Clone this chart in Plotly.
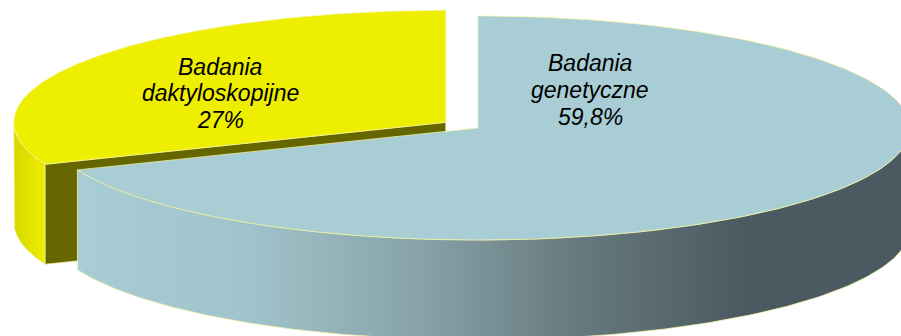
import numpy as np
import plotly.graph_objects as go

# ---- data ----
categories = ["Badania genetyczne", "Badania daktyloskopijne"]
label_lines = [["Badania", "genetyczne", "59,8%"], ["Badania", "daktyloskopijne", "27%"]]
values = [59.8, 27.0]

# ---- geometry / style ----
W, H = 901, 336
cx, cy = 478, 128
rx, ry = 432, 112
depth = 100
explode = [0.0, 0.09]
start_angle = -90.0  # 12 o'clock, clockwise on screen

top_colors = ["#A9CDD5", "#EEEE00"]
cut_colors = ["#4A5A60", "#666600"]
edge = "rgba(245,245,160,0.9)"

label_pos = [(590, [63, 90, 117]), (220, [67, 93, 120])]

fig = go.Figure()

total = sum(values)
angles = []
a = start_angle
for v in values:
    b = a + 360.0 * v / total
    angles.append((a, b))
    a = b


def pt(t, ox, oy, dz=0.0):
    r = np.radians(t)
    return ox + rx * np.cos(r), oy + ry * np.sin(r) + dz


def arc(t0, t1, ox, oy, dz=0.0, n=200):
    ts = np.linspace(t0, t1, n)
    r = np.radians(ts)
    return list(ox + rx * np.cos(r)), list(oy + ry * np.sin(r) + dz)


def add_poly(xs, ys, color=None, grad=None, line=edge, lw=0.8):
    kw = dict(x=xs + [xs[0]], y=ys + [ys[0]], mode="lines", fill="toself",
              line=dict(color=line, width=lw), hoverinfo="skip", showlegend=False)
    if grad is not None:
        kw["fillgradient"] = grad
    else:
        kw["fillcolor"] = color
    fig.add_trace(go.Scatter(**kw))


# draw order: yellow (back-left, exploded) first, then blue
for i in [1, 0]:
    t0, t1 = angles[i]
    mid = np.radians((t0 + t1) / 2)
    ox = cx + rx * explode[i] * np.cos(mid)
    oy = cy + ry * explode[i] * np.sin(mid)

    # visible rim: portion of [t0,t1] inside (0,180) modulo 360
    lo, hi = max(t0, 0), min(t1, 180)
    if hi > lo:
        xt, yt = arc(lo, hi, ox, oy)
        xb, yb = arc(hi, lo, ox, oy, depth)
        if i == 0:
            grad = dict(type="horizontal", start=80, stop=745,
                        colorscale=[[0, "#A9CDD5"], [0.25, "#A1C3CB"], [0.5, "#88A4AA"],
                                    [0.75, "#66797E"], [1, "#4A5A60"]])
        else:
            grad = dict(type="horizontal", start=12, stop=45,
                        colorscale=[[0, "#D6D600"], [1, "#EEEE00"]])
        add_poly(xt + xb, yt + yb, grad=grad)

    # visible cut face (yellow's face at end angle faces the viewer)
    if i == 1:
        ex, ey = pt(t0, ox, oy)
        add_poly([ox, ex, ex, ox], [oy, ey, ey + depth, oy + depth], color=cut_colors[i])

    # top face
    xa, ya = arc(t0, t1, ox, oy)
    add_poly([ox] + xa, [oy] + ya, color=top_colors[i])

# labels
for i in range(len(values)):
    x, ys = label_pos[i]
    for txt, y in zip(label_lines[i], ys):
        fig.add_annotation(x=x, y=y, xref="x", yref="y", text=txt, showarrow=False,
                           font=dict(family="Liberation Sans, Arial", size=23,
                                     color="#000000", style="italic"),
                           xanchor="center", yanchor="middle")

fig.update_layout(
    width=W, height=H, margin=dict(l=0, r=0, t=0, b=0),
    paper_bgcolor="white", plot_bgcolor="white", showlegend=False,
    xaxis=dict(range=[0, W], visible=False, fixedrange=True),
    yaxis=dict(range=[H, 0], visible=False, fixedrange=True),
)
fig.write_html("out.html")
